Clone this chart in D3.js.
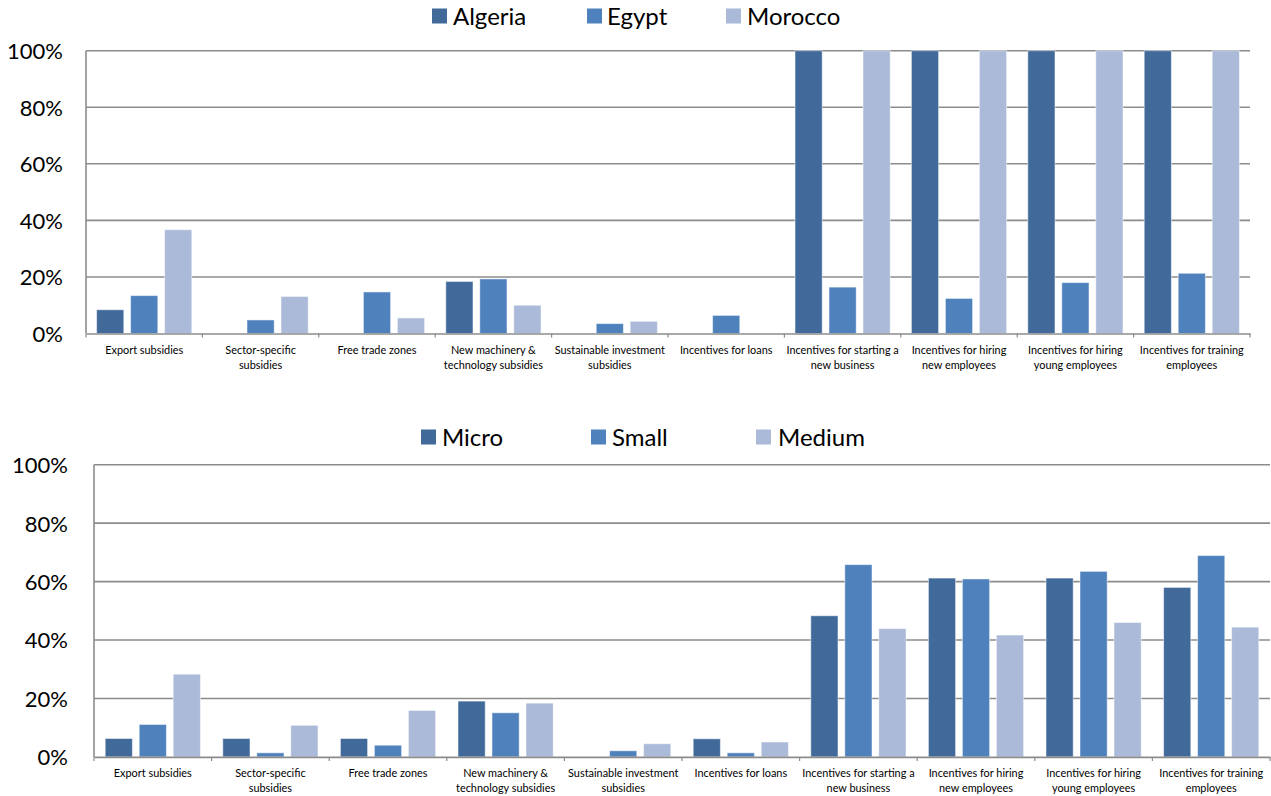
<!DOCTYPE html>
<html>
<head>
<meta charset="utf-8">
<script src="https://cdn.jsdelivr.net/npm/d3@7"></script>
<style>
  html, body { margin: 0; padding: 0; background: #fff; }
  svg { display: block; font-family: Lato, "Liberation Sans", sans-serif; }
</style>
</head>
<body>
<svg id="chart" width="1271" height="796"></svg>
<script>
// Policy categories shared by both panels ("\n" marks a label line break)
const categories = [
  "Export subsidies",
  "Sector-specific\nsubsidies",
  "Free trade zones",
  "New machinery &\ntechnology subsidies",
  "Sustainable investment\nsubsidies",
  "Incentives for loans",
  "Incentives for starting a\nnew business",
  "Incentives for hiring\nnew employees",
  "Incentives for hiring\nyoung employees",
  "Incentives for training\nemployees"
];

// Panel 1: share by country (%)
const countrySeries = ["Algeria", "Egypt", "Morocco"];
const algeria = [8.4, 0, 0, 18.4, 0, 0, 100, 100, 100, 100];
const egypt   = [13.4, 4.8, 14.7, 19.3, 3.5, 6.4, 16.4, 12.4, 18.0, 21.3];
const morocco = [36.7, 13.1, 5.5, 10.0, 4.3, 0, 100, 100, 100, 100];

// Panel 2: share by firm size (%)
const sizeSeries = ["Micro", "Small", "Medium"];
const micro  = [6.3, 6.3, 6.3, 19.1, 0, 6.2, 48.3, 61.2, 61.2, 58.0];
const small  = [11.1, 1.4, 4.0, 15.1, 2.1, 1.4, 65.8, 60.9, 63.5, 68.9];
const medium = [28.3, 10.8, 15.9, 18.4, 4.5, 5.1, 43.9, 41.7, 46.0, 44.4];

// Y axis ticks
const yTicks = [0, 20, 40, 60, 80, 100];

const colors = ["#416a9b", "#4f81bd", "#aabad8"];

const svg = d3.select("#chart");

function drawPanel(opts) {
  const { left, right, top, bottom, series, values, legend } = opts;
  const g = svg.append("g");

  const x0 = d3.scaleBand().domain(categories).range([left, right]).padding(0);
  const x1 = d3.scaleBand().domain(series)
    .range([-51, 51]).paddingInner(0.2).paddingOuter(0.1);
  const y = d3.scaleLinear().domain([0, 100]).range([bottom, top]);

  // horizontal gridlines
  g.append("g").selectAll("line").data(yTicks.filter(t => t > 0)).join("line")
    .attr("x1", left).attr("x2", right)
    .attr("y1", d => y(d)).attr("y2", d => y(d))
    .attr("stroke", "#8c8c8c").attr("stroke-width", 1.6);

  // y axis labels
  const yAxis = d3.axisLeft(y).tickValues(yTicks).tickFormat(d => d + "%").tickSize(0).tickPadding(0);
  const ya = g.append("g").attr("transform", `translate(${opts.labelX},0)`).call(yAxis);
  ya.select(".domain").remove();
  ya.selectAll("text").attr("font-size", 22).attr("font-family", "Lato, sans-serif")
    .attr("fill", "#000").attr("dy", "0.36em");

  // bars
  const groups = g.append("g").selectAll("g").data(categories).join("g")
    .attr("transform", d => `translate(${x0(d) + x0.bandwidth() / 2},0)`);
  groups.selectAll("rect")
    .data((d, i) => series.map((s, k) => ({ s, k, v: values[k][i] })))
    .join("rect")
    .filter(d => d.v > 0)
    .attr("x", d => x1(d.s))
    .attr("width", x1.bandwidth())
    .attr("y", d => y(d.v))
    .attr("height", d => y(0) - y(d.v))
    .attr("fill", d => colors[d.k])
    .attr("stroke", "#ffffff").attr("stroke-opacity", 0.5).attr("stroke-width", 1);

  // left axis line
  g.append("line").attr("x1", left).attr("x2", left).attr("y1", top).attr("y2", bottom)
    .attr("stroke", "#8c8c8c").attr("stroke-width", 1.6);

  // bottom axis with category ticks
  const xAxis = d3.axisBottom(x0).tickSize(0).tickFormat("");
  const xa = g.append("g").attr("transform", `translate(0,${bottom})`).call(xAxis);
  xa.select(".domain").attr("stroke", "#8c8c8c").attr("stroke-width", 1.6);
  xa.selectAll(".tick").remove();
  g.append("g").selectAll("line").data(d3.range(categories.length + 1)).join("line")
    .attr("x1", i => left + i * x0.step()).attr("x2", i => left + i * x0.step())
    .attr("y1", bottom).attr("y2", bottom + 4)
    .attr("stroke", "#8c8c8c").attr("stroke-width", 1.2);

  // category labels
  const labels = g.append("g").selectAll("text").data(categories).join("text")
    .attr("x", d => x0(d) + x0.bandwidth() / 2)
    .attr("y", opts.labelY)
    .attr("text-anchor", "middle")
    .attr("font-size", 10.9)
    .attr("fill", "#000");
  labels.each(function(d) {
    const t = d3.select(this);
    d.split("\n").forEach((line, i) => {
      t.append("tspan").attr("x", x0(d) + x0.bandwidth() / 2)
        .attr("dy", i === 0 ? "0.35em" : 15).text(line);
    });
  });

  // legend
  const lg = g.append("g");
  series.forEach((s, k) => {
    lg.append("rect").attr("x", legend.boxX[k]).attr("y", legend.y - 7.5)
      .attr("width", 15).attr("height", 15).attr("fill", colors[k]);
    lg.append("text").attr("x", legend.textX[k]).attr("y", legend.y)
      .attr("dy", "0.36em").attr("font-size", 24).attr("fill", "#000").text(s);
  });
}

drawPanel({
  left: 86, right: 1250, top: 50.7, bottom: 333.5,
  labelX: 63, labelY: 350,
  series: countrySeries,
  values: [algeria, egypt, morocco],
  legend: { y: 16, boxX: [432, 587, 726], textX: [453, 607, 747] }
});

drawPanel({
  left: 94, right: 1270, top: 464.7, bottom: 756.9,
  labelX: 68, labelY: 773,
  series: sizeSeries,
  values: [micro, small, medium],
  legend: { y: 437, boxX: [421, 591, 756], textX: [442, 612, 778] }
});
</script>
</body>
</html>
